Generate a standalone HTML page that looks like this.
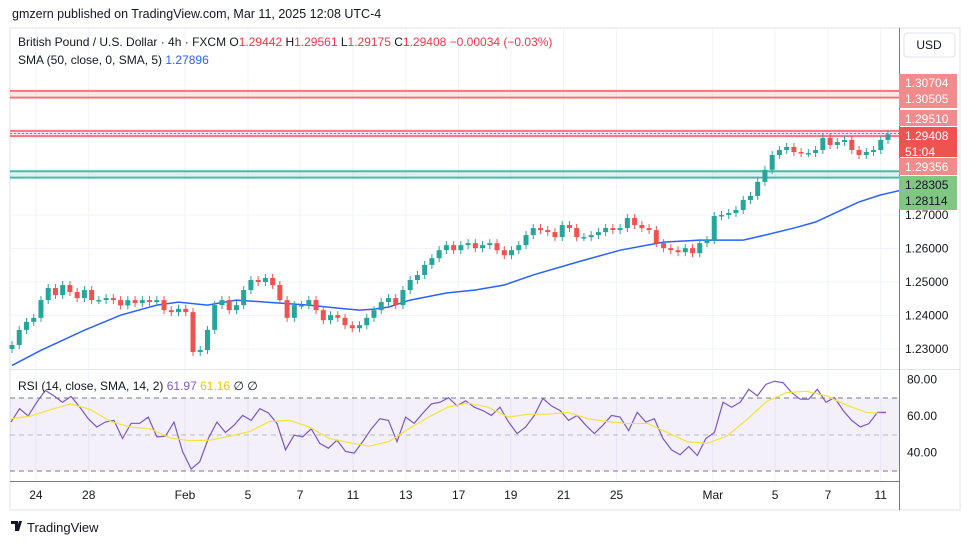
<!DOCTYPE html>
<html><head><meta charset="utf-8">
<style>
body{margin:0;background:#fff;font-family:"Liberation Sans",sans-serif;}
svg text{font-family:"Liberation Sans",sans-serif;}
</style></head>
<body>
<svg id="c" width="970" height="545" xmlns="http://www.w3.org/2000/svg">
<text x="12" y="18" font-size="12.5" fill="#131722">gmzern published on TradingView.com, Mar 11, 2025 12:08 UTC-4</text>
<rect x="10" y="28" width="950" height="482" fill="none" stroke="#e0e3eb"/>
<g id="grid"></g>
<rect x="10" y="398" width="889" height="73" fill="#7e57c2" fill-opacity="0.09"/>
<line x1="10" y1="398" x2="899" y2="398" stroke="#787b86" stroke-dasharray="5,4"/>
<line x1="10" y1="435" x2="899" y2="435" stroke="#9598a1" stroke-dasharray="5,4" stroke-opacity="0.6"/>
<line x1="10" y1="471" x2="899" y2="471" stroke="#787b86" stroke-dasharray="5,4"/>
<g id="zones"></g>
<g id="sma"></g>
<g id="candles"></g>
<g id="rsi"></g>
<line x1="10" y1="369.5" x2="960" y2="369.5" stroke="#e0e3eb"/>
<line x1="10" y1="481.5" x2="899" y2="481.5" stroke="#787b86"/>
<line x1="899.5" y1="28" x2="899.5" y2="510" stroke="#787b86"/>
<g id="axis"></g>
<text x="18" y="46" font-size="12" fill="#131722">British Pound / U.S. Dollar · 4h · FXCM  O<tspan fill="#f23645">1.29442</tspan>  H<tspan fill="#f23645">1.29561</tspan>  L<tspan fill="#f23645">1.29175</tspan>  C<tspan fill="#f23645">1.29408</tspan>  <tspan fill="#f23645">−0.00034 (−0.03%)</tspan></text>
<text x="18" y="64" font-size="12" fill="#131722">SMA (50, close, 0, SMA, 5)  <tspan fill="#2962ff">1.27896</tspan></text>
<text x="18" y="390" font-size="12" fill="#131722">RSI (14, close, SMA, 14, 2)  <tspan fill="#7e57c2">61.97</tspan>  <tspan fill="#e6c800">61.16</tspan>  ∅  ∅</text>
<rect x="904" y="33" width="51" height="24" rx="3" fill="#fff" stroke="#e0e3eb"/>
<text x="929" y="49" font-size="12" text-anchor="middle" fill="#131722">USD</text>
<g><path d="M11 521h7v10h-3v-7h-4zM19 521h3l-3 10h-3z" fill="#131722"/><text x="27" y="532" font-size="13" fill="#131722">TradingView</text></g>
</svg>
<script>
const closes=[1.2312,1.2357,1.2381,1.2393,1.2446,1.2482,1.2461,1.2491,1.2470,1.2452,1.2476,1.2446,1.2446,1.2452,1.2446,1.2430,1.2446,1.2437,1.2446,1.2440,1.2446,1.2416,1.2410,1.2420,1.2410,
1.2291,1.2297,1.2357,1.2431,1.2446,1.2416,1.2431,1.2476,1.2506,1.2500,1.2512,1.2491,1.2446,1.2393,1.2431,1.2431,1.2446,1.2416,1.2386,1.2401,
1.2393,1.2371,1.2362,1.2371,1.2393,1.2416,1.2440,1.2452,1.2431,1.2476,1.2506,1.2521,1.2551,1.2571,1.2595,1.2610,1.2595,1.2610,1.2616,1.2601,
1.2610,1.2616,1.2595,1.2580,1.2595,1.2610,1.2640,1.2661,1.2655,1.2649,1.2634,1.2670,1.2661,1.2634,1.2634,1.2640,1.2649,1.2661,1.2655,1.2661,
1.2691,1.2670,1.2661,1.2655,1.2616,1.2601,1.2595,1.2589,1.2601,1.2586,1.2616,1.2625,1.2697,1.2700,1.2706,1.2715,1.2745,1.2757,1.2799,1.2835,
1.2879,1.2894,1.2903,1.2888,1.2885,1.2885,1.2894,1.2930,1.2909,1.2918,1.2924,1.2894,1.2879,1.2888,1.2894,1.2924,1.2941];
const firstOpen=1.2300;
const smaIdx=[0,4,10,15,20,23,27,31,35,37,41,45,48,50,52,55,60,64,68,72,78,84,90,95,98,101,104,108,111,114,117,120,123,125];
const smaVals=[1.2251,1.2296,1.2356,1.2401,1.2431,1.2440,1.2431,1.2446,1.2440,1.2437,1.2431,1.2422,1.2416,1.2419,1.2425,1.2446,1.2467,1.2476,1.2491,1.2521,1.2559,1.2595,1.2619,1.2625,1.2625,1.2625,1.2640,1.2661,1.2679,1.2709,1.2739,1.2760,1.2775,1.2790];
const rsiVals=[56.7,64,60,67.5,74,71,67.5,70.7,65,58.5,54,56.7,57.6,47.7,56,56,59.4,48.6,49,56.7,40.6,31,35,47.7,56.7,51,55,60.3,57.6,64,61.7,56,41.5,49.5,48.6,53,45,42.4,46.8,40.6,39.7,46,53,58.5,57.6,46,59.4,56,61.5,66.6,67.5,70,65.5,68.3,64.8,63,60.3,64.8,56.7,50.4,54,60.3,69.6,65.5,63,57.6,60.3,55,50.4,55,60.3,59.4,52,62,56.7,58.5,47.7,41.5,38.8,43.3,38.4,47.7,51,67.5,64.8,67.5,74.6,71,77.3,79,78.2,72.8,69.2,69.2,74.6,67.5,70,63,57.6,54,55.8,62,62];
const rsiSma=[58.5,60,63.5,66.6,63.5,57,54,53,48,46.5,46.8,49,51.5,57,57.6,54,47.7,45.5,43.5,46,53,59.4,65,67,64.8,59.4,61,61,62,58.5,57,55.8,56,51,46,45,49,58,68,72.8,73.5,71,66,62,61.2];
const priceTicks=[1.27,1.26,1.25,1.24,1.23];
const rsiTicks=[80,60,40];
const timeLabels=["24","28","Feb","5","7","11","13","17","19","21","25","Mar","5","7","11"];
const timePos=[3.3,10.6,23.9,32.6,39.8,47.1,54.4,61.7,68.9,76.2,83.5,96.8,105.4,112.7,120];
const zoneLevels=[[1.30704,1.30505],[1.29510,1.29356],[1.28305,1.28114]];
const axisLabels=[["1.30704","1.30505"],["1.29510"],["1.29408","51:04"],["1.29356"],["1.28305","1.28114"]];

const NS="http://www.w3.org/2000/svg";
const X0=12,X1=888;
const N=closes.length;
const xi=i=>X0+i*(X1-X0)/(N-1);
const py=p=>215-(p-1.27)*3350;
const ry=v=>416-(v-60)*1.83;
function mk(t,a,parent){const e=document.createElementNS(NS,t);for(const k in a)e.setAttribute(k,a[k]);parent.appendChild(e);return e;}
const g=id=>document.getElementById(id);

timePos.forEach((t,i)=>{const l=mk('line',{x1:xi(t),x2:xi(t),y1:28,y2:481,stroke:'#f0f3fa'},g('grid'));

});
priceTicks.forEach(p=>{const l=mk('line',{x1:10,x2:899,y1:py(p),y2:py(p),stroke:'#f0f3fa'},g('grid'));

});
const zc=['#f7525f','#f7525f','#22ab94'];
zoneLevels.forEach((z,i)=>{const y1=py(z[0]),y2=py(z[1]);
const r=mk('rect',{x:10,y:y1,width:889,height:y2-y1,fill:zc[i],'fill-opacity':0.15},g('zones'));


[y1,y2].forEach(y=>{const l=mk('line',{x1:10,x2:899,y1:y,y2:y,stroke:zc[i],'stroke-width':2,'stroke-opacity':0.8},g('zones'));

});
if(i==1){const m=mk('line',{x1:10,x2:899,y1:(y1+y2)/2,y2:(y1+y2)/2,stroke:'#f7525f','stroke-dasharray':'2,2'},g('zones'));

}
});
const sp=mk('polyline',{points:smaIdx.map((k,i)=>xi(k)+','+py(smaVals[i])).join(' '),fill:'none',stroke:'#2962ff','stroke-width':1.5},g('sma'));


closes.forEach((c,i)=>{const o=i?closes[i-1]:firstOpen;const up=c>=o;const col=up?'#26a69a':'#ef5350';
const x=xi(i);const hi=Math.max(o,c)+0.0012,lo=Math.min(o,c)-0.0012;
const w=mk('line',{x1:x,x2:x,y1:py(hi),y2:py(lo),stroke:col},g('candles'));


const top=py(Math.max(o,c)),bot=py(Math.min(o,c));
const b=mk('rect',{x:x-2.5,y:top,width:5,height:Math.max(1.5,bot-top),fill:col},g('candles'));

});
const rx=(i,n)=>11+i*(886-11)/(n-1);
const rl=mk('polyline',{points:rsiVals.map((v,i)=>rx(i,rsiVals.length)+','+ry(v)).join(' '),fill:'none',stroke:'#7e57c2','stroke-width':1.2},g('rsi'));


const rs=mk('polyline',{points:rsiSma.map((v,i)=>rx(i,rsiSma.length)+','+ry(v)).join(' '),fill:'none',stroke:'#f5e33b','stroke-width':1.2},g('rsi'));


priceTicks.forEach(p=>{const t=mk('text',{x:905,y:py(p)+4,'font-size':12,fill:'#131722'},g('axis'));t.textContent=p.toFixed(5);

});
rsiTicks.forEach(v=>{const t=mk('text',{x:907,y:ry(v)+4,'font-size':12,fill:'#131722'},g('axis'));t.textContent=v.toFixed(2);

});
timeLabels.forEach((s,i)=>{const t=mk('text',{x:xi(timePos[i]),y:499,'font-size':12,fill:'#131722','text-anchor':'middle'},g('axis'));t.textContent=s;

});
const boxes=[[74,34,'#f28b8b','#fff'],[110,16,'#f28b8b','#fff'],[127,30,'#ef5350','#fff'],[158,17,'#f28b8b','#fff'],[176,34,'#81c784','#131722']];
boxes.forEach((b,i)=>{const r=mk('rect',{x:899,y:b[0],width:58,height:b[1],fill:b[2]},g('axis'));


axisLabels[i].forEach((s,j)=>{const t=mk('text',{x:905,y:b[0]+13+j*16,'font-size':12,fill:b[3]},g('axis'));t.textContent=s;

});});
</script>
</body></html>
